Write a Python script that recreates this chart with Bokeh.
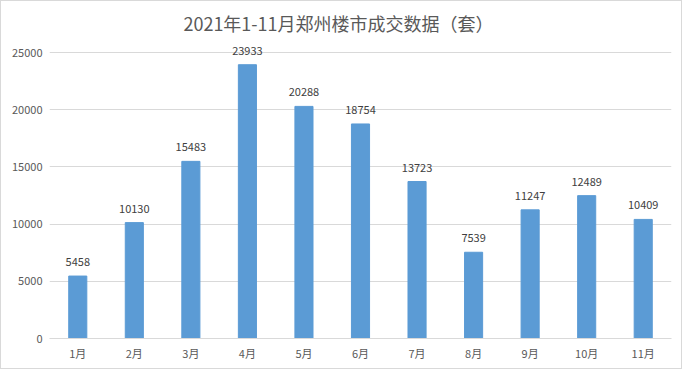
from bokeh.plotting import figure
from bokeh.models import ColumnDataSource, Range1d, FixedTicker, NumeralTickFormatter, LabelSet, Label
from bokeh.core.properties import value
from bokeh.embed import file_html
from bokeh.resources import INLINE

months = ["1月", "2月", "3月", "4月", "5月", "6月", "7月", "8月", "9月", "10月", "11月"]
values = [5458, 10130, 15483, 23933, 20288, 18754, 13723, 7539, 11247, 12489, 10409]
y_ticks = [0, 5000, 10000, 15000, 20000, 25000]
title_text = "2021年1-11月郑州楼市成交数据（套）"

FONT = "Noto Sans CJK SC"

# frame extends above the top gridline so that the title and top label are not clipped
Y_TOP = 25000 * 329 / 286

src = ColumnDataSource(dict(m=months, v=values, t=[str(v) for v in values]))

p = figure(x_range=months, y_range=Range1d(0, Y_TOP), width=682, height=369,
           output_backend="svg", toolbar_location=None,
           min_border_left=48, min_border_right=12, min_border_top=8, min_border_bottom=32)

p.vbar(x="m", top="v", width=0.32, source=src, color="#5B9BD5")

labels = LabelSet(x="m", y="v", text="t", source=src, text_align="center", text_baseline="bottom",
                  y_offset=10, text_font=value(FONT), text_font_size="11px", text_color="#404040")
p.add_layout(labels)

title = Label(x=289, y=316, x_units="screen", y_units="screen", text=title_text,
              text_align="center", text_baseline="middle", text_font=FONT,
              text_font_size="18px", text_color="#595959")
p.add_layout(title)

p.outline_line_color = None
p.xgrid.grid_line_color = None
p.ygrid.grid_line_color = "#d9d9d9"
p.yaxis.ticker = FixedTicker(ticks=y_ticks)
p.yaxis.formatter = NumeralTickFormatter(format="0")
p.yaxis.axis_line_color = None
p.yaxis.major_tick_line_color = None
p.yaxis.major_tick_out = 2
p.yaxis.minor_tick_line_color = None
p.yaxis.major_label_text_font = FONT
p.yaxis.major_label_text_font_size = "11px"
p.yaxis.major_label_text_color = "#595959"
p.xaxis.axis_line_color = "#d9d9d9"
p.xaxis.major_tick_line_color = None
p.xaxis.major_label_text_font = FONT
p.xaxis.major_label_text_font_size = "11px"
p.xaxis.major_label_text_color = "#595959"
p.xaxis.major_label_standoff = 0
p.styles = {"border": "1px solid #d9d9d9"}

open("out.html", "w").write(file_html(p, INLINE))
